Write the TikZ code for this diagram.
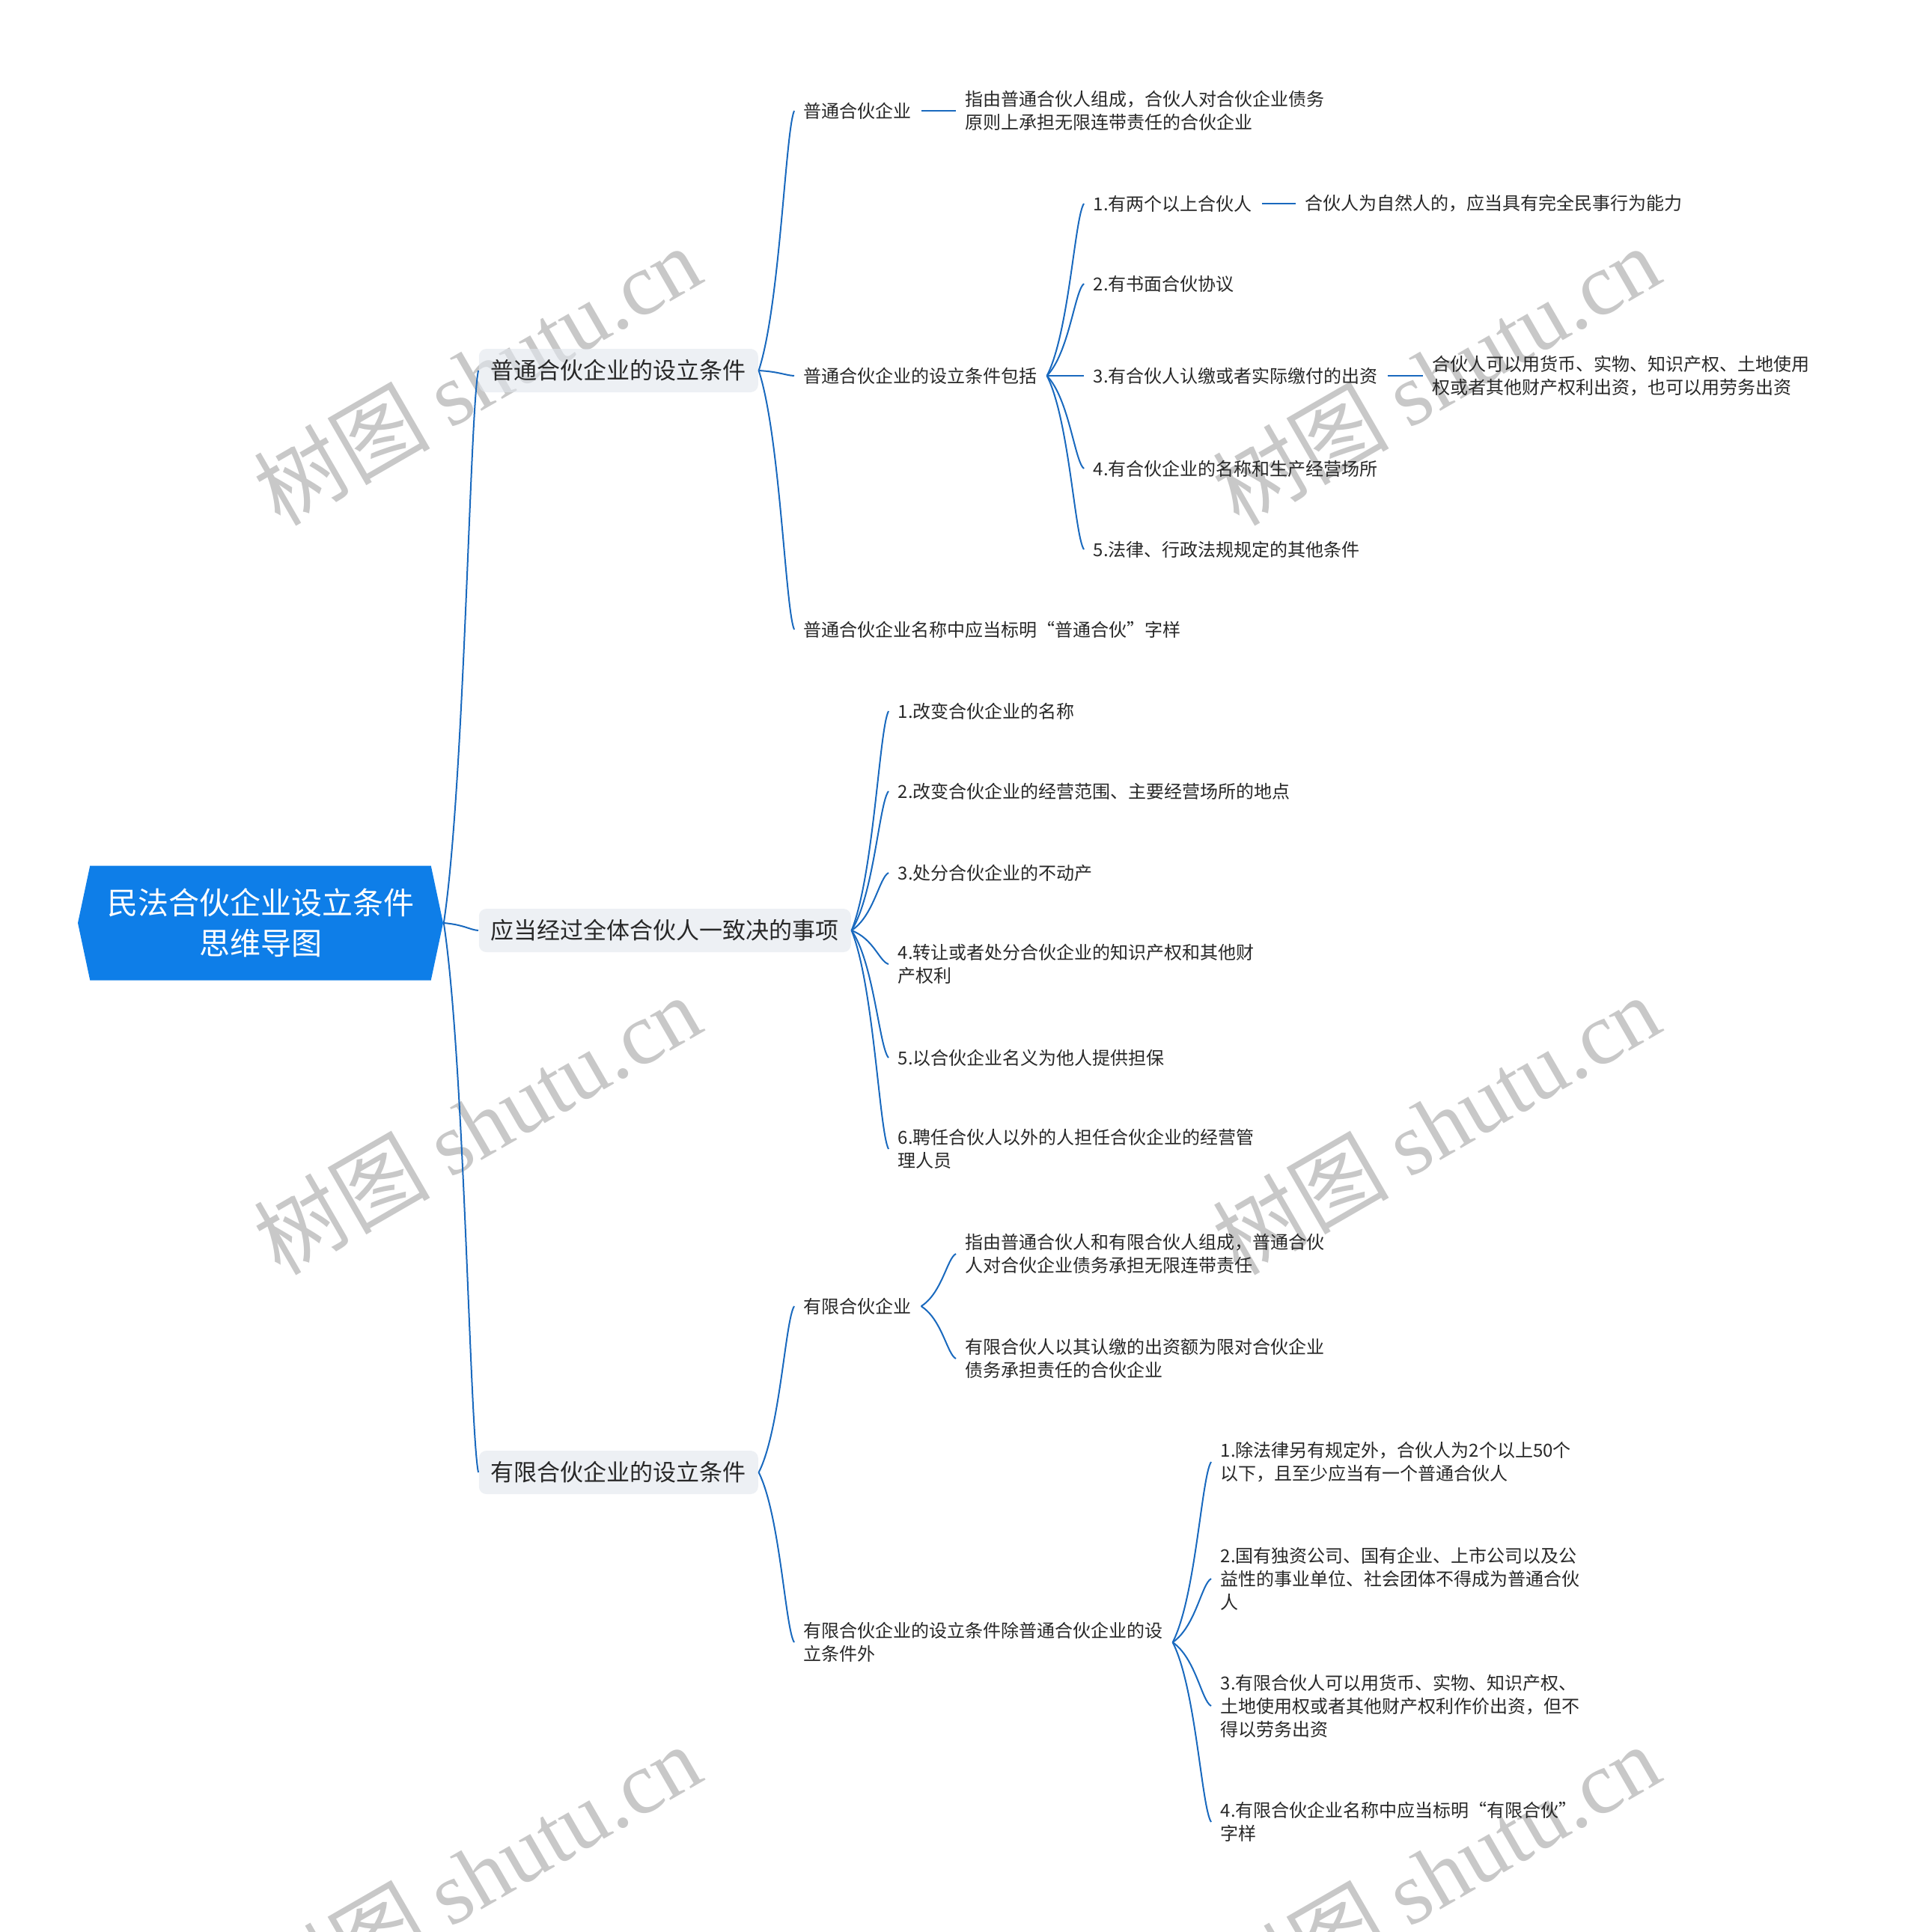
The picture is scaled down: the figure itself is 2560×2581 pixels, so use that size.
\documentclass[tikz,border=0pt]{standalone}
\usepackage{fontspec}
\setmainfont{Noto Sans CJK SC}
\newfontfamily\wmfont{Liberation Serif}
\usetikzlibrary{shapes.symbols,calc}

\definecolor{lnblue}{RGB}{25,105,190}
\definecolor{rootblue}{RGB}{14,126,232}
\definecolor{boxgray}{RGB}{225,230,237}
\definecolor{txt}{RGB}{40,40,40}
\definecolor{wmgray}{RGB}{200,200,200}

\begin{document}
\begin{tikzpicture}[x=0.25pt,y=-0.25pt,
  rootnode/.style={signal,signal to=east and west,signal pointer angle=156,fill=rootblue,text=white,
    minimum width=122pt,minimum height=38.25pt,inner sep=0,align=center,
    font=\fontsize{10.25pt}{13.5pt}\selectfont},
  topic/.style={anchor=west,fill=boxgray,fill opacity=0.6,text opacity=1,rounded corners=2.5pt,
    minimum height=14.5pt,inner xsep=4pt,inner ysep=0,text=txt,font=\fontsize{7.75pt}{9pt}\selectfont},
  leaf/.style={anchor=west,inner xsep=3pt,inner ysep=0,align=left,text=txt,
    font=\fontsize{6pt}{7.75pt}\selectfont},
  br/.style={draw=lnblue,line width=0.5pt,to path={let \p1=(\tikztostart),\p2=(\tikztotarget) in
    .. controls (\x1+0.6*\x2-0.6*\x1,\y1+0.25*\y2-0.25*\y1)
    and (\x1+0.75*\x2-0.75*\x1,\y1+0.92*\y2-0.92*\y1) .. (\tikztotarget)}},
  dashln/.style={draw=lnblue,line width=0.6pt},
  wm/.style={rotate=30,text=wmgray,font=\fontsize{29.5pt}{32pt}\selectfont}]
\useasboundingbox (0,0) rectangle (2560,2581);

% watermarks, under everything else
\foreach \wx in {637,1918}{
  \foreach \wy in {501,1502,2503}{
    \node[wm] (wm\wx-\wy) at (\wx,\wy) {树图 {\wmfont shutu.cn}};
  }
}

% centre and main topics
\node[rootnode] (root) at (348,1233) {民法合伙企业设立条件\\思维导图};
\node[topic] (A) at (639,495) {普通合伙企业的设立条件};
\node[topic] (B) at (639,1243) {应当经过全体合伙人一致决的事项};
\node[topic] (C) at (639,1967) {有限合伙企业的设立条件};

% general partnership
\node[leaf] (A1) at (1061,148) {普通合伙企业};
\node[leaf] (A1d) at (1277,148) {指由普通合伙人组成，合伙人对合伙企业债务\\原则上承担无限连带责任的合伙企业};
\node[leaf] (A2) at (1061,502) {普通合伙企业的设立条件包括};
\node[leaf] (A21) at (1448,272) {1.有两个以上合伙人};
\node[leaf] (A21d) at (1731,272) {合伙人为自然人的，应当具有完全民事行为能力};
\node[leaf] (A22) at (1448,379) {2.有书面合伙协议};
\node[leaf] (A23) at (1448,502) {3.有合伙人认缴或者实际缴付的出资};
\node[leaf] (A23d) at (1901,502) {合伙人可以用货币、实物、知识产权、土地使用\\权或者其他财产权利出资，也可以用劳务出资};
\node[leaf] (A24) at (1448,626) {4.有合伙企业的名称和生产经营场所};
\node[leaf] (A25) at (1448,734) {5.法律、行政法规规定的其他条件};
\node[leaf] (A3) at (1061,841) {普通合伙企业名称中应当标明“普通合伙”字样};

% matters needing all partners
\node[leaf] (B1) at (1187,950) {1.改变合伙企业的名称};
\node[leaf] (B2) at (1187,1057) {2.改变合伙企业的经营范围、主要经营场所的地点};
\node[leaf] (B3) at (1187,1166) {3.处分合伙企业的不动产};
\node[leaf] (B4) at (1187,1288) {4.转让或者处分合伙企业的知识产权和其他财\\产权利};
\node[leaf] (B5) at (1187,1413) {5.以合伙企业名义为他人提供担保};
\node[leaf] (B6) at (1187,1535) {6.聘任合伙人以外的人担任合伙企业的经营管\\理人员};

% limited partnership
\node[leaf] (C1) at (1061,1745) {有限合伙企业};
\node[leaf] (C11) at (1277,1675) {指由普通合伙人和有限合伙人组成，普通合伙\\人对合伙企业债务承担无限连带责任};
\node[leaf] (C12) at (1277,1815) {有限合伙人以其认缴的出资额为限对合伙企业\\债务承担责任的合伙企业};
\node[leaf] (C2) at (1061,2194) {有限合伙企业的设立条件除普通合伙企业的设\\立条件外};
\node[leaf] (C21) at (1618,1953) {1.除法律另有规定外，合伙人为2个以上50个\\以下，且至少应当有一个普通合伙人};
\node[leaf] (C22) at (1618,2109) {2.国有独资公司、国有企业、上市公司以及公\\益性的事业单位、社会团体不得成为普通合伙\\人};
\node[leaf] (C23) at (1618,2279) {3.有限合伙人可以用货币、实物、知识产权、\\土地使用权或者其他财产权利作价出资，但不\\得以劳务出资};
\node[leaf] (C24) at (1618,2434) {4.有限合伙企业名称中应当标明“有限合伙”\\字样};

% branches
\foreach \a/\b in {root/A,root/B,root/C,A/A1,A/A2,A/A3,A2/A21,A2/A22,A2/A23,A2/A24,A2/A25,
  B/B1,B/B2,B/B3,B/B4,B/B5,B/B6,C/C1,C/C2,C1/C11,C1/C12,C2/C21,C2/C22,C2/C23,C2/C24}
  \draw[br] (\a.east) to (\b.west);
\draw[dashln] (A1.east) -- (A1d.west);
\draw[dashln] (A21.east) -- (A21d.west);
\draw[dashln] (A23.east) -- (A23d.west);
\end{tikzpicture}
\end{document}
